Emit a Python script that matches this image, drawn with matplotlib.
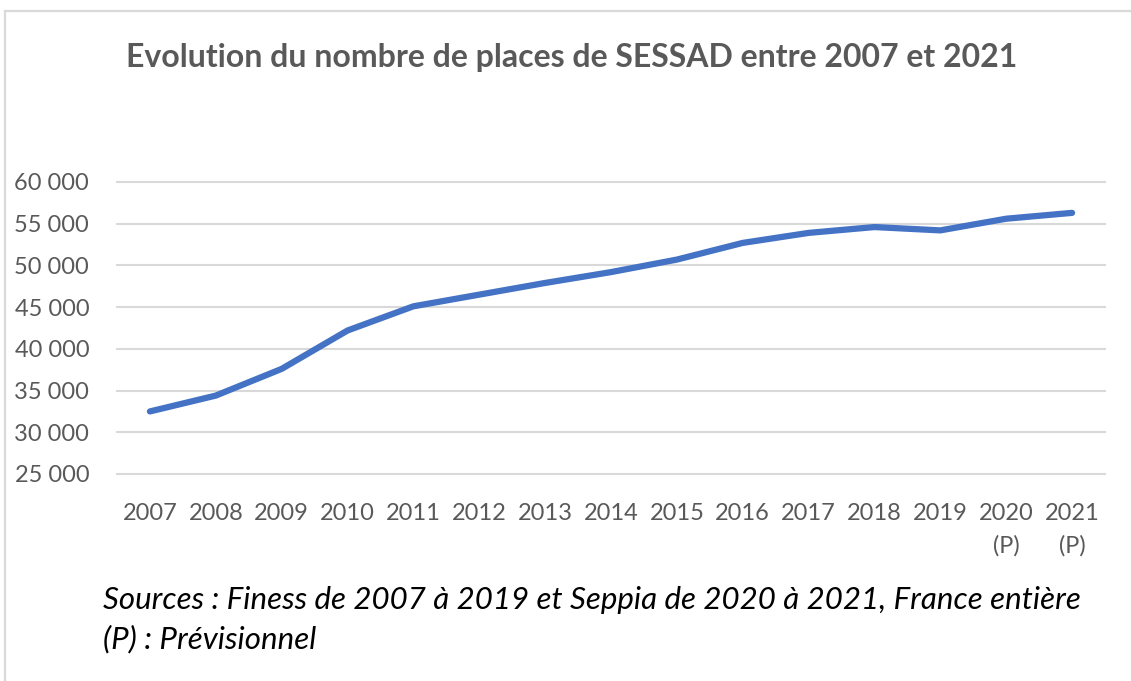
import matplotlib
matplotlib.use("Agg")
import matplotlib.pyplot as plt
from matplotlib.lines import Line2D
from matplotlib.ticker import FuncFormatter

years = ["2007", "2008", "2009", "2010", "2011", "2012", "2013", "2014",
         "2015", "2016", "2017", "2018", "2019", "2020\n(P)", "2021\n(P)"]
places = [32500, 34400, 37600, 42200, 45100, 46500, 47900, 49200,
          50700, 52700, 53900, 54600, 54200, 55600, 56300]
y_ticks = [25000, 30000, 35000, 40000, 45000, 50000, 55000, 60000]

title = "Evolution du nombre de places de SESSAD entre 2007 et 2021"
note = "Sources : Finess de 2007 à 2019 et Seppia de 2020 à 2021, France entière\n(P) : Prévisionnel"

plt.rcParams['font.family'] = ['Lato', 'DejaVu Sans']
grey = '#595959'

fig = plt.figure(figsize=(11.31, 6.81), dpi=100)
ax = fig.add_axes([117 / 1131, 207 / 681, 988 / 1131, 292 / 681])

x = list(range(len(years)))
ax.plot(x, places, color='#4472C4', linewidth=4.5, solid_capstyle='round')

ax.set_xlim(-0.5, len(years) - 0.5)
ax.set_ylim(25000, 60000)
ax.set_yticks(y_ticks)
ax.yaxis.set_major_formatter(FuncFormatter(lambda v, p: f"{int(v):,}".replace(",", " ")))
ax.set_xticks(x)
ax.set_xticklabels(years, linespacing=1.6, va='top')

for s in ax.spines.values():
    s.set_visible(False)
ax.tick_params(axis='both', length=0, labelsize=17, labelcolor=grey)
ax.tick_params(axis='y', pad=20)
ax.tick_params(axis='x', pad=21)
ax.yaxis.grid(True, color='#D9D9D9', linewidth=1.5)
for gl in ax.get_ygridlines():
    gl.set_clip_on(False)
ax.set_axisbelow(True)

fig.text(572 / 1131, 1 - 58 / 681, title, ha='center', va='center',
         fontsize=23, fontweight='bold', color=grey)
fig.text(103 / 1131, 1 - 620 / 681, note, ha='left', va='center',
         fontsize=22.5, fontstyle='italic', color='black', linespacing=1.45)

# outer frame (top and left edges visible)
fig.add_artist(Line2D([5 / 1131, 1], [1 - 11 / 681, 1 - 11 / 681],
                      transform=fig.transFigure, color='#D9D9D9', linewidth=1.6))
fig.add_artist(Line2D([5 / 1131, 5 / 1131], [0, 1 - 11 / 681],
                      transform=fig.transFigure, color='#D9D9D9', linewidth=1.6))

fig.savefig("out.png", dpi=100)
